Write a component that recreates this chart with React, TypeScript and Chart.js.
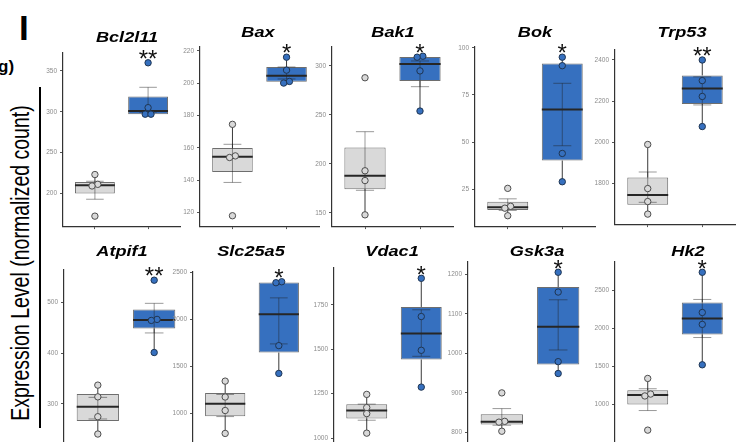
import React, { useEffect, useRef } from 'react';
import { Chart, registerables } from 'chart.js';

Chart.register(...registerables);

const FONT = '"Liberation Sans", Arial, Helvetica, sans-serif';
Chart.defaults.font.family = FONT;

// ---------- data ----------
const GENES = ['Bcl2l11', 'Bax', 'Bak1', 'Bok', 'Trp53', 'Atpif1', 'Slc25a5', 'Vdac1', 'Gsk3a', 'Hk2'];

const CONTROL = [
  [223, 211, 209, 172],
  [174.5, 155, 154, 118],
  [288, 193, 183, 148],
  [25.5, 16, 15, 11],
  [1990, 1776, 1713, 1652],
  [337, 314, 275, 241],
  [1342, 1173, 1029, 785],
  [1246, 1172, 1138, 1028],
  [900, 828, 826, 803],
  [1341, 1135, 1110, 659],
];

const TREATED = [
  [360, 305, 297, 297],
  [216, 208, 201, 200],
  [310, 309, 295, 254],
  [95, 90.5, 44, 29],
  [2400, 2300, 2223, 2077],
  [543, 466, 464, 401],
  [2400, 2390, 1720, 1424],
  [1899, 1684, 1494, 1287],
  [1205, 1155, 979, 949],
  [2741, 2211, 2054, 1521],
];

const SIGNIF = ['**', '*', '*', '*', '**', '**', '*', '*', '*', '*'];

const Y_TICKS = [
  [200, 250, 300, 350],
  [120, 140, 160, 180, 200, 220],
  [150, 200, 250, 300],
  [25, 50, 75, 100],
  [1800, 2000, 2200, 2400],
  [300, 400, 500],
  [1000, 1500, 2000, 2500],
  [1000, 1250, 1500, 1750],
  [800, 900, 1000, 1100, 1200],
  [1000, 1500, 2000, 2500],
];

const Y_MIN = [159.8, 111.6, 136.5, 5.5, 1603.5, 223.2, 682, 972, 773, 488];
const Y_MAX = [372, 222.3, 319.4, 100.4, 2448.5, 563, 2504, 1957, 1231, 2877];

// ---------- layout (pixel geometry of each panel's plot area) ----------
const PANELS = [
  { l: 63, r: 181, t: 53, b: 227, tx: 127, ty: 42 },
  { l: 200, r: 320, t: 47, b: 227, tx: 258, ty: 37 },
  { l: 332, r: 454, t: 47, b: 227, tx: 393, ty: 37 },
  { l: 475, r: 596, t: 47, b: 227, tx: 535, ty: 37 },
  { l: 615, r: 736, t: 50, b: 225, tx: 682, ty: 37 },
  { l: 64, r: 189, t: 270, b: 444, tx: 122, ty: 256 },
  { l: 193, r: 312, t: 272, b: 444, tx: 251, ty: 256 },
  { l: 334, r: 455, t: 268, b: 444, tx: 392, ty: 256 },
  { l: 468, r: 593, t: 262, b: 444, tx: 537, ty: 256 },
  { l: 615, r: 736, t: 262, b: 444, tx: 688, ty: 256 },
];

const GRAY_FILL = '#d9d9d9';
const BLUE_FILL = '#3670bf';
const BOX_BORDER = '#6e6e6e';
const GRAY_PT_BORDER = '#4d4d4d';
const BLUE_PT_BORDER = '#1f3552';

// ---------- helpers ----------
function quantile(sorted: number[], p: number) {
  const h = (sorted.length - 1) * p;
  const lo = Math.floor(h);
  const hi = Math.ceil(h);
  return sorted[lo] + (h - lo) * (sorted[hi] - sorted[lo]);
}

function stats(vals: number[]) {
  const s = [...vals].sort((a, b) => a - b);
  const q1 = quantile(s, 0.25);
  const med = quantile(s, 0.5);
  const q3 = quantile(s, 0.75);
  const iqr = q3 - q1;
  const inside = s.filter((v) => v >= q1 - 1.5 * iqr && v <= q3 + 1.5 * iqr);
  const loW = Math.min(...inside);
  const hiW = Math.max(...inside);
  const n = s.length;
  const mean = s.reduce((a, b) => a + b, 0) / n;
  const sd = Math.sqrt(s.reduce((a, b) => a + (b - mean) * (b - mean), 0) / (n - 1));
  const se = sd / Math.sqrt(n);
  return { q1, med, q3, loW, hiW, mean, se };
}

function swarm(vals: number[], center: number, thrVal: number, sepUnits: number) {
  const idx = vals.map((_, j) => j).sort((a, b) => vals[a] - vals[b]);
  const out: { x: number; y: number }[] = new Array(vals.length);
  let start = 0;
  while (start < idx.length) {
    let end = start;
    while (end + 1 < idx.length && vals[idx[end + 1]] - vals[idx[end]] < thrVal) end++;
    const k = end - start + 1;
    for (let j = start; j <= end; j++) {
      out[idx[j]] = { x: center + (j - start - (k - 1) / 2) * sepUnits, y: vals[idx[j]] };
    }
    start = end + 1;
  }
  return out;
}

const YW = 34; // y-axis width
const XH = 6; // x-axis height
const PR = 4; // right padding

function Panel({ i }: { i: number }) {
  const ref = useRef<HTMLCanvasElement>(null);
  const p = PANELS[i];
  const cl = p.l - YW;
  const ct = p.ty - 22;
  const w = p.r - p.l + YW + PR;
  const h = p.b - ct + XH;

  useEffect(() => {
    if (!ref.current) return;
    const yMin = Y_MIN[i];
    const yMax = Y_MAX[i];
    const sc = stats(CONTROL[i]);
    const st = stats(TREATED[i]);
    const thrVal = (4 * (yMax - yMin)) / (p.b - p.t);
    const sepUnits = 5.8 / ((p.r - p.l) / 2.2);
    const ctrlPts = swarm(CONTROL[i], 1, thrVal, sepUnits);
    const trtPts = swarm(TREATED[i], 2, thrVal, sepUnits);
    const ticks = Y_TICKS[i];

    const extras = {
      id: 'extras' + i,
      afterDatasetDraw(chart: any, args: any) {
        if (args.index !== 0) return;
        const ctx = chart.ctx;
        const xs = chart.scales.x;
        const ys = chart.scales.y;
        const spacing = xs.getPixelForValue(2) - xs.getPixelForValue(1);
        const bw = (spacing * 0.75) / 2;
        const cw = spacing * 0.165;
        const line = (x1: number, y1: number, x2: number, y2: number) => {
          ctx.beginPath();
          ctx.moveTo(x1, y1);
          ctx.lineTo(x2, y2);
          ctx.stroke();
        };
        ctx.save();
        [sc, st].forEach((s, k) => {
          const xc = xs.getPixelForValue(k + 1);
          const Y = (v: number) => ys.getPixelForValue(v);
          ctx.lineCap = 'butt';
          // whiskers
          ctx.strokeStyle = '#3a3a3a';
          ctx.lineWidth = 1;
          if (s.hiW > s.q3) line(xc, Y(s.q3), xc, Y(s.hiW));
          if (s.loW < s.q1) line(xc, Y(s.q1), xc, Y(s.loW));
          // mean ± SE error bar
          ctx.strokeStyle = 'rgba(30,30,30,0.45)';
          ctx.lineWidth = 1;
          const top = Y(s.mean + s.se);
          const bot = Y(s.mean - s.se);
          line(xc, top, xc, bot);
          line(xc - cw, top, xc + cw, top);
          line(xc - cw, bot, xc + cw, bot);
          // median
          ctx.strokeStyle = '#262626';
          ctx.lineWidth = 2;
          line(xc - bw, Y(s.med), xc + bw, Y(s.med));
        });
        ctx.restore();
      },
      afterDraw(chart: any) {
        const ctx = chart.ctx;
        const xs = chart.scales.x;
        const ys = chart.scales.y;
        ctx.save();
        // title
        ctx.translate(p.tx - cl, p.ty - ct);
        ctx.scale(1.17, 1);
        ctx.font = `italic bold 15.5px ${FONT}`;
        ctx.fillStyle = '#000';
        ctx.textAlign = 'center';
        ctx.textBaseline = 'alphabetic';
        ctx.fillText(GENES[i], 0, 0);
        ctx.restore();
        // significance
        ctx.save();
        const xa = xs.getPixelForValue(2);
        const yc = ys.getPixelForValue(Math.max(...TREATED[i])) - 9.5;
        ctx.font = `24px ${FONT}`;
        ctx.fillStyle = '#111';
        ctx.textAlign = 'center';
        ctx.textBaseline = 'alphabetic';
        ctx.fillText(SIGNIF[i], xa, yc + 0.575 * 24);
        ctx.restore();
      },
    };

    const chart = new Chart(ref.current, {
      type: 'bar',
      data: {
        datasets: [
          {
            type: 'bar',
            data: [
              { x: 1, y: [sc.q1, sc.q3] },
              { x: 2, y: [st.q1, st.q3] },
            ] as any,
            backgroundColor: [GRAY_FILL, BLUE_FILL],
            borderColor: BOX_BORDER,
            borderWidth: 1,
            borderSkipped: false,
            barPercentage: 0.75,
            categoryPercentage: 1,
            order: 2,
          } as any,
          {
            type: 'scatter',
            data: ctrlPts,
            pointRadius: 3.2,
            pointBackgroundColor: GRAY_FILL,
            pointBorderColor: GRAY_PT_BORDER,
            pointBorderWidth: 1,
            order: 1,
          } as any,
          {
            type: 'scatter',
            data: trtPts,
            pointRadius: 3.2,
            pointBackgroundColor: BLUE_FILL,
            pointBorderColor: BLUE_PT_BORDER,
            pointBorderWidth: 1,
            order: 1,
          } as any,
        ],
      },
      options: {
        animation: false,
        responsive: false,
        devicePixelRatio: 1,
        events: [],
        layout: { padding: { left: 0, right: PR, top: p.t - ct, bottom: 0 } },
        plugins: {
          legend: { display: false },
          tooltip: { enabled: false },
          title: { display: false },
        },
        scales: {
          x: {
            type: 'linear',
            min: 0.4,
            max: 2.6,
            offset: false,
            afterBuildTicks: (s: any) => {
              s.ticks = [{ value: 1 }, { value: 2 }];
            },
            afterFit: (s: any) => {
              s.height = XH;
            },
            ticks: { display: false },
            grid: { display: true, drawOnChartArea: false, drawTicks: true, tickLength: 3, color: '#555', offset: false },
            border: { display: true, color: '#333', width: 1.2 },
          },
          y: {
            type: 'linear',
            min: yMin,
            max: yMax,
            afterBuildTicks: (s: any) => {
              s.ticks = ticks.map((v) => ({ value: v }));
            },
            afterFit: (s: any) => {
              s.width = YW;
            },
            ticks: {
              autoSkip: false,
              font: { size: 6.5, family: FONT },
              color: '#8c8c8c',
              padding: 3,
              callback: (v: any) => String(v),
            },
            grid: { display: true, drawOnChartArea: false, drawTicks: true, tickLength: 3, color: '#555' },
            border: { display: true, color: '#333', width: 1.2 },
          },
        },
      } as any,
      plugins: [extras],
    });
    return () => chart.destroy();
  }, [i]);

  return (
    <canvas
      ref={ref}
      width={w}
      height={h}
      style={{ position: 'absolute', left: cl, top: ct, width: w, height: h }}
    />
  );
}

export default function App() {
  return (
    <div
      style={{
        position: 'fixed',
        left: 0,
        top: 0,
        width: 736,
        height: 442,
        overflow: 'hidden',
        background: '#fff',
        fontFamily: FONT,
      }}
    >
      <div
        style={{
          position: 'absolute',
          left: 19,
          top: 10.4,
          fontSize: 35,
          fontWeight: 'bold',
          lineHeight: 1,
          color: '#000',
        }}
      >
        I
      </div>
      <div
        style={{
          position: 'absolute',
          left: -2,
          top: 57.6,
          fontSize: 17,
          fontWeight: 'bold',
          lineHeight: 1,
          color: '#000',
        }}
      >
        g)
      </div>
      <div
        style={{
          position: 'absolute',
          left: 38.5,
          top: 87,
          width: 2.7,
          height: 341,
          background: '#000',
        }}
      />
      <div
        style={{
          position: 'absolute',
          left: 21.2,
          top: 262.5,
          fontSize: 19.5,
          lineHeight: 1,
          whiteSpace: 'nowrap',
          color: '#000',
          transformOrigin: '50% 50%',
          transform: 'translate(-50%, -50%) scaleX(1.3) rotate(-90deg)',
        }}
      >
        Expression Level (normalized count)
      </div>
      {GENES.map((_, i) => (
        <Panel key={i} i={i} />
      ))}
    </div>
  );
}
